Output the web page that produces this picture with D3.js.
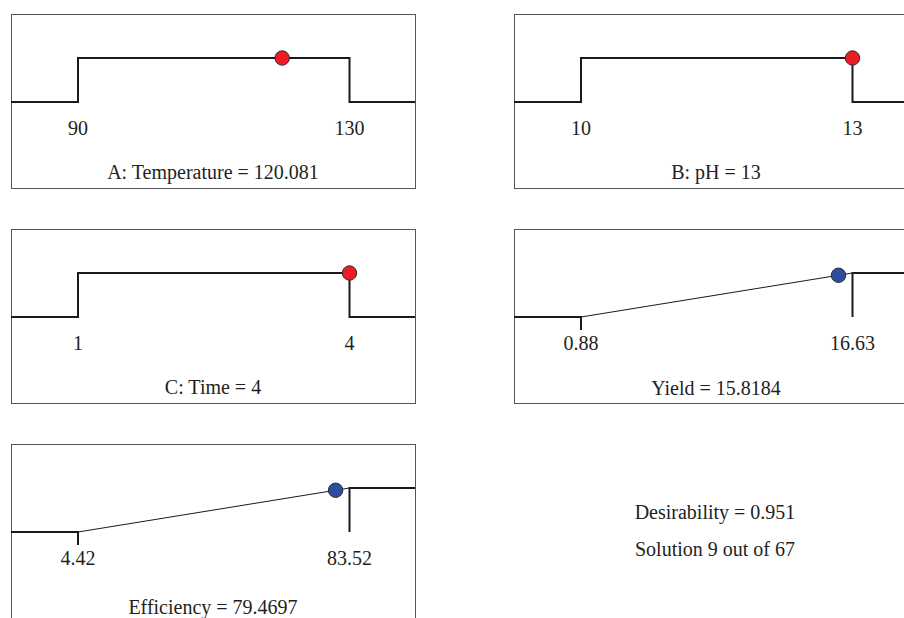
<!DOCTYPE html>
<html>
<head>
<meta charset="utf-8">
<script src="https://cdn.jsdelivr.net/npm/d3@7"></script>
<style>
  body { margin: 0; background: #fff; }
  svg { display: block; }
  text { font-family: "Liberation Serif", "DejaVu Serif", serif; font-size: 20px; fill: #231f20; }
</style>
</head>
<body>
<script>
// optimisation ramps: factors and responses
var names   = ["A: Temperature", "B: pH", "C: Time", "Yield", "Efficiency"];
var lows    = [90, 10, 1, 0.88, 4.42];
var highs   = [130, 13, 4, 16.63, 83.52];
var values  = [120.081, 13, 4, 15.8184, 79.4697];
var valueLabels = ["120.081", "13", "4", "15.8184", "79.4697"];
var lowLabels  = ["90", "10", "1", "0.88", "4.42"];
var highLabels = ["130", "13", "4", "16.63", "83.52"];
var goals   = ["range", "range", "range", "max", "max"];

var desirability = 0.951;
var solution = 9, solutions = 67;

// panel layout
var panelPos = [[11, 14], [514, 14], [11, 229], [514, 229], [11, 444]];
var pw = 404, ph = 174;
var titleY = [165, 165, 165, 166, 170];

var svg = d3.select("body").append("svg")
	.attr("width", 904)
	.attr("height", 618);

for (let k = 0; k < names.length; k++) {
	var g = svg.append("g")
		.attr("transform", "translate(" + panelPos[k][0] + "," + panelPos[k][1] + ")");

	var x = d3.scaleLinear().domain([lows[k], highs[k]]).range([67, 338.5]);
	var y = d3.scaleLinear().domain([0, 1]).range([88, 44]);

	// frame (efficiency panel is cut at the bottom)
	var h = k == 4 ? ph + 10 : ph;
	g.append("rect")
		.attr("x", 0.5).attr("y", 0.5)
		.attr("width", pw).attr("height", h)
		.attr("fill", "none")
		.attr("stroke", "#555")
		.attr("stroke-width", 1);

	var line = d3.line();
	var dval;

	if (goals[k] == "range") {
		var pts = [
			[0, y(0)], [x(lows[k]), y(0)], [x(lows[k]), y(1)],
			[x(highs[k]), y(1)], [x(highs[k]), y(0)], [pw, y(0)]
		];
		g.append("path").attr("d", line(pts))
			.attr("fill", "none").attr("stroke", "#1a1a1a").attr("stroke-width", 2);
		dval = 1;
	} else {
		var d = d3.scaleLinear().domain([lows[k], highs[k]]).range([0, 1]).clamp(true);
		dval = d(values[k]);
		g.append("path").attr("d", line([[0, y(0)], [x(lows[k]), y(0)], [x(lows[k]), y(0) + 13]]))
			.attr("fill", "none").attr("stroke", "#1a1a1a").attr("stroke-width", 2);
		g.append("path").attr("d", line([[x(lows[k]), y(0)], [x(highs[k]), y(1)]]))
			.attr("fill", "none").attr("stroke", "#1a1a1a").attr("stroke-width", 1);
		g.append("path").attr("d", line([[x(highs[k]), y(0)], [x(highs[k]), y(1)], [pw, y(1)]]))
			.attr("fill", "none").attr("stroke", "#1a1a1a").attr("stroke-width", 2);
	}

	g.append("circle")
		.attr("cx", x(values[k]))
		.attr("cy", y(dval))
		.attr("r", 7.2)
		.attr("fill", goals[k] == "range" ? "#ed1c24" : "#2e4d9e")
		.attr("stroke", "#2a2a2a")
		.attr("stroke-width", 1);

	g.append("text").attr("x", x(lows[k])).attr("y", 121)
		.attr("text-anchor", "middle").text(lowLabels[k]);
	g.append("text").attr("x", x(highs[k])).attr("y", 121)
		.attr("text-anchor", "middle").text(highLabels[k]);
	g.append("text").attr("x", pw / 2).attr("y", titleY[k])
		.attr("text-anchor", "middle").text(names[k] + " = " + valueLabels[k]);
}

svg.append("text").attr("x", 715).attr("y", 519)
	.attr("text-anchor", "middle").text("Desirability = " + desirability);
svg.append("text").attr("x", 715).attr("y", 556)
	.attr("text-anchor", "middle").text("Solution " + solution + " out of " + solutions);
</script>
</body>
</html>
